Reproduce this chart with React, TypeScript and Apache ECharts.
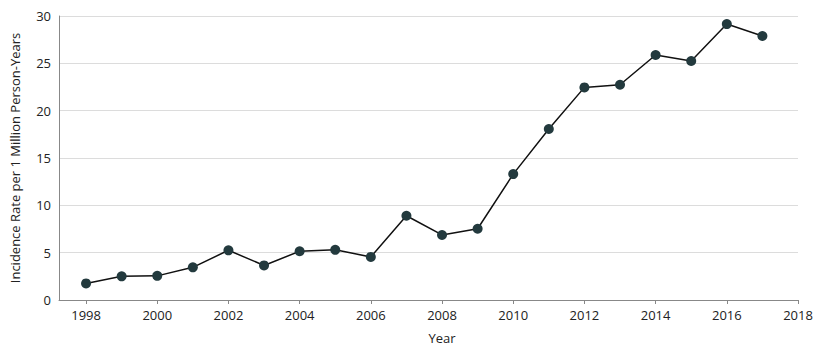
import React, { useEffect, useRef } from "react";
import * as echarts from "echarts";

const years = [1998, 1999, 2000, 2001, 2002, 2003, 2004, 2005, 2006, 2007, 2008, 2009, 2010, 2011, 2012, 2013, 2014, 2015, 2016, 2017];
const rates = [1.75, 2.5, 2.55, 3.45, 5.25, 3.65, 5.15, 5.3, 4.55, 8.9, 6.87, 7.53, 13.3, 18.06, 22.46, 22.74, 25.88, 25.25, 29.15, 27.89];
const xTicks = [1998, 2000, 2002, 2004, 2006, 2008, 2010, 2012, 2014, 2016, 2018];
const yTicks = [0, 5, 10, 15, 20, 25, 30];
const xTitle = "Year";
const yTitle = "Incidence Rate per 1 Million Person-Years";

const FONT = "'Open Sans', 'Noto Sans', sans-serif";

export default function App() {
  const ref = useRef<HTMLDivElement>(null);
  useEffect(() => {
    if (!ref.current) return;
    const chart = echarts.init(ref.current, undefined, { renderer: "svg" });
    chart.setOption({
      animation: false,
      backgroundColor: "#ffffff",
      grid: { left: 58, right: 37, top: 16, bottom: 52, containLabel: false },
      xAxis: {
        type: "value",
        min: 1997.24,
        max: xTicks[xTicks.length - 1],
        axisLine: { show: true, lineStyle: { color: "#888", width: 1 } },
        axisTick: { show: true, length: 4, lineStyle: { color: "#888" }, customValues: xTicks },
        axisLabel: {
          fontFamily: FONT,
          fontSize: 13,
          color: "#222",
          margin: 8,
          customValues: xTicks,
          formatter: (v: number) => String(v),
        },
        splitLine: { show: false },
      },
      yAxis: {
        type: "value",
        min: yTicks[0],
        max: yTicks[yTicks.length - 1],
        interval: 5,
        name: yTitle,
        nameLocation: "middle",
        nameGap: 38,
        nameTextStyle: { fontFamily: FONT, fontSize: 13, color: "#222" },
        axisLine: { show: true, lineStyle: { color: "#888", width: 1 } },
        axisTick: { show: false },
        axisLabel: { fontFamily: FONT, fontSize: 13, color: "#222", margin: 8 },
        splitLine: { show: true, lineStyle: { color: "#dcdcdc", width: 1 } },
      },
      graphic: [
        {
          type: "text",
          x: 442,
          y: 338,
          style: {
            text: xTitle,
            fontFamily: FONT,
            fontSize: 13,
            fill: "#222",
            textAlign: "center",
            textVerticalAlign: "middle",
          },
        },
      ],
      series: [
        {
          type: "line",
          data: years.map((y, i) => [y, rates[i]]),
          symbol: "circle",
          symbolSize: 10,
          lineStyle: { color: "#111", width: 1.5 },
          itemStyle: { color: "#233a3e", borderWidth: 0 },
        },
      ],
    });
    return () => chart.dispose();
  }, []);
  return <div ref={ref} style={{ width: 835, height: 352, position: "absolute", left: 0, top: 0 }} />;
}
